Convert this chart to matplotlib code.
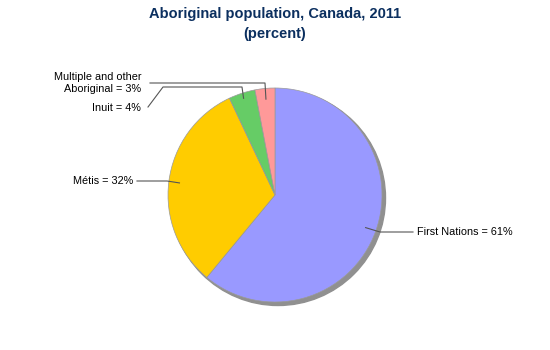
import numpy as np
import matplotlib
matplotlib.use("Agg")
import matplotlib.pyplot as plt
from matplotlib.patches import Circle

labels = ["First Nations", "Métis", "Inuit", "Multiple and other\nAboriginal"]
values = [61, 32, 4, 3]
colors = ["#9999FF", "#FFCC00", "#66CC66", "#FF9999"]

plt.rcParams['font.family'] = ['Liberation Sans', 'DejaVu Sans']

W, H = 550, 350
fig = plt.figure(figsize=(5.5, 3.5), dpi=100)
ax = fig.add_axes([0, 0, 1, 1])

cx, cy, r = 275, H - 195, 107

# shadow
ax.add_patch(Circle((cx + 3, cy - 3), r + 0.5, color="#909090", zorder=1))
wedges, _ = ax.pie(values, colors=colors, startangle=90, counterclock=False,
                   center=(cx, cy), radius=r,
                   wedgeprops=dict(edgecolor="#9a9a9a", linewidth=0.5))
for w in wedges:
    w.set_zorder(2)

ax.set_xlim(0, W)
ax.set_ylim(0, H)
ax.set_aspect('auto')
ax.axis('off')

def anchor(w, f=0.9):
    a = np.deg2rad((w.theta1 + w.theta2) / 2)
    return cx + f * r * np.cos(a), cy + f * r * np.sin(a)

lc = dict(color="#555555", lw=0.8, zorder=3)
fs = 7.8

# First Nations
x0, y0 = anchor(wedges[0])
ax.plot([x0, 380, 413], [y0, H - 232, H - 232], **lc)
ax.text(417, H - 232, f"{labels[0]} = {values[0]}%", fontsize=fs, va='center', ha='left')

# Metis
x0, y0 = anchor(wedges[1])
ax.plot([x0, 167, 137], [y0, H - 181, H - 181], **lc)
ax.text(133, H - 181, f"{labels[1]} = {values[1]}%", fontsize=fs, va='center', ha='right')

# Inuit
x0, y0 = anchor(wedges[2], 0.95)
ax.plot([x0, 242, 163, 148], [y0, H - 87, H - 87, H - 107], **lc)
ax.text(141, H - 108, f"{labels[2]} = {values[2]}%", fontsize=fs, va='center', ha='right')

# Multiple
x0, y0 = anchor(wedges[3], 0.9)
ax.plot([x0, 265, 150], [y0, H - 83, H - 83], **lc)
ax.text(141, H - 83, f"{labels[3]} = {values[3]}%", fontsize=fs, va='center', ha='right',
        multialignment='right', linespacing=1.3)

ax.text(W / 2, H - 14, "Aboriginal population, Canada, 2011", fontsize=10.5,
        fontweight='bold', color="#0B2F5F", ha='center', va='center')
ax.text(W / 2, H - 34, "(percent)", fontsize=10.5,
        fontweight='bold', color="#0B2F5F", ha='center', va='center')

fig.savefig("out.png", dpi=100)
